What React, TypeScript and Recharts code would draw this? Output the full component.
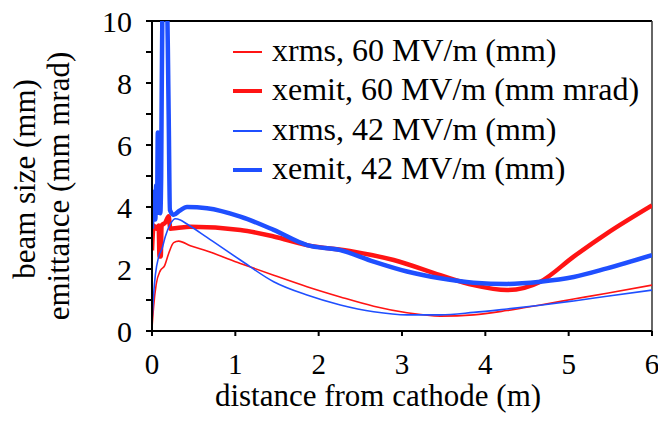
import { LineChart, Line, XAxis, YAxis, ReferenceLine } from 'recharts'

// [distance (m), value]
const xrms60: [number, number][] = [
  [0, 0.1], [0.02, 0.8], [0.05, 1.5], [0.1, 1.95], [0.15, 2.1], [0.2, 2.5], [0.26, 2.85],
  [0.32, 2.9], [0.46, 2.75], [0.66, 2.58], [1.06, 2.18], [1.46, 1.8], [1.86, 1.43],
  [2.26, 1.1], [2.66, 0.8], [3.06, 0.59], [3.46, 0.48], [3.86, 0.52], [4.26, 0.66],
  [4.66, 0.84], [5.06, 1.03], [5.46, 1.22], [6, 1.48],
]

const xemit60: [number, number][] = [
  [0, 2.6], [0.02, 3.4], [0.05, 3.3], [0.08, 3.4], [0.09, 2.4], [0.105, 2.4], [0.115, 3.4],
  [0.16, 3.5], [0.2, 3.7], [0.22, 3.3], [0.3, 3.32], [0.46, 3.36], [1.06, 3.26],
  [1.46, 3.05], [1.86, 2.77], [2.42, 2.56], [2.9, 2.29], [3.46, 1.8], [3.86, 1.48],
  [4.26, 1.32], [4.66, 1.59], [5.06, 2.4], [5.46, 3.15], [6, 4.05],
]

const xrms42: [number, number][] = [
  [0, 0.3], [0.02, 1.2], [0.04, 1.8], [0.08, 2.4], [0.12, 2.65], [0.16, 3.05], [0.22, 3.45],
  [0.28, 3.62], [0.34, 3.58], [0.42, 3.45], [0.66, 3.02], [1.06, 2.29], [1.46, 1.59],
  [1.86, 1.16], [2.26, 0.84], [2.66, 0.62], [3.06, 0.52], [3.46, 0.52], [3.86, 0.6],
  [4.26, 0.71], [4.66, 0.83], [5.06, 0.97], [5.46, 1.12], [6, 1.32],
]

const xemit42: [number, number][] = [
  [0, 3.3], [0.01, 4.1], [0.02, 3.6], [0.03, 4.5], [0.04, 3.6], [0.05, 4.7], [0.06, 3.8],
  [0.07, 6.4], [0.08, 4.0], [0.09, 6.4], [0.1, 3.8], [0.11, 5.0], [0.125, 10.5], [0.15, 10.8],
  [0.18, 10.5], [0.2, 7.0], [0.215, 3.9], [0.26, 3.75], [0.33, 3.88], [0.42, 4.0],
  [0.66, 3.96], [1.06, 3.69], [1.46, 3.26], [1.86, 2.77], [2.26, 2.61], [2.66, 2.24],
  [3.06, 1.92], [3.46, 1.7], [3.86, 1.56], [4.26, 1.52], [4.66, 1.59], [5.06, 1.74],
  [5.46, 2.02], [6, 2.45],
]

const xTicks = [0, 1, 2, 3, 4, 5, 6]
const yTicks = [0, 1, 2, 3, 4, 5, 6, 7, 8, 9, 10]

const RED = '#ff1414'
const BLUE = '#1f4fff'
const FONT = '"Liberation Serif", "Times New Roman", serif'

const series = [
  { name: 'xrms, 60 MV/m (mm)', points: xrms60, color: RED, width: 1.6 },
  { name: 'xemit, 60 MV/m (mm mrad)', points: xemit60, color: RED, width: 4.5 },
  { name: 'xrms, 42 MV/m (mm)', points: xrms42, color: BLUE, width: 1.6 },
  { name: 'xemit, 42 MV/m (mm)', points: xemit42, color: BLUE, width: 4.5 },
]

const toRows = (pts: [number, number][]) => pts.map(([x, y]) => ({ x, y }))

function LegendBox() {
  return (
    <div style={{ position: 'absolute', left: 233, top: 30, fontFamily: FONT, fontSize: 32, color: '#000', lineHeight: 1 }}>
      {series.map(s => (
        <div key={s.name} style={{ display: 'flex', alignItems: 'center', height: 39.5, whiteSpace: 'nowrap' }}>
          <div style={{ width: 29, height: s.width > 2 ? 4 : 1.5, background: s.color, marginRight: 10, marginTop: 4 }} />
          <span>{s.name}</span>
        </div>
      ))}
    </div>
  )
}

function YLabel() {
  return (
    <g fontFamily={FONT} fontSize={31} fill="#000">
      <text transform="translate(35,179) rotate(-90)" textAnchor="middle">beam size (mm)</text>
      <text transform="translate(69,186) rotate(-90)" textAnchor="middle">emittance (mm mrad)</text>
    </g>
  )
}

export default function App() {
  return (
    <div style={{ position: 'absolute', left: 0, top: 0, width: 658, height: 427, background: '#fff' }}>
      <LineChart width={658} height={427} margin={{ top: 21, right: 6, bottom: 0, left: 0 }} style={{ fontFamily: FONT }}>
        <XAxis
          type="number"
          dataKey="x"
          domain={[0, 6]}
          ticks={xTicks}
          interval={0}
          allowDataOverflow
          height={96}
          stroke="#000"
          strokeWidth={2}
          tickSize={5}
          tickMargin={17}
          tick={{ fill: '#000', fontSize: 29, fontFamily: FONT }}
          label={{ value: 'distance from cathode (m)', position: 'insideBottom', offset: 21, dx: -24, fill: '#000', fontSize: 31, fontFamily: FONT }}
        />
        <YAxis
          type="number"
          dataKey="y"
          domain={[0, 10]}
          ticks={yTicks}
          interval={0}
          allowDataOverflow
          width={152}
          stroke="#000"
          strokeWidth={2}
          tickSize={6}
          tickMargin={14}
          tickFormatter={(v: number) => (v % 2 === 0 ? String(v) : '')}
          tick={{ fill: '#000', fontSize: 30, fontFamily: FONT }}
          label={<YLabel />}
        />
        <ReferenceLine y={10} stroke="#000" strokeWidth={2} />
        <ReferenceLine x={6} stroke="#333" strokeWidth={1.5} />
        {series.map(s => (
          <Line
            key={s.name}
            name={s.name}
            data={toRows(s.points)}
            dataKey="y"
            type="monotone"
            stroke={s.color}
            strokeWidth={s.width}
            dot={false}
            isAnimationActive={false}
          />
        ))}
      </LineChart>
      <LegendBox />
    </div>
  )
}
